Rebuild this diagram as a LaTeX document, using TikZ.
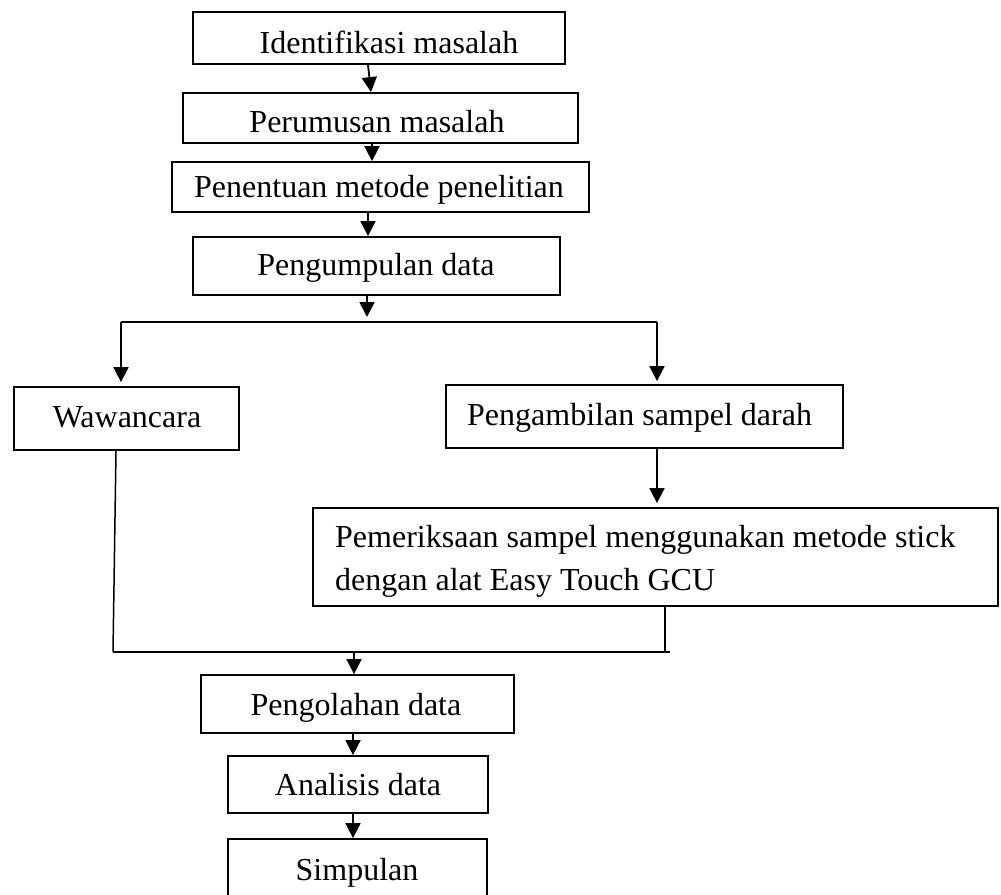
\documentclass[tikz,border=0pt]{standalone}
\usepackage{fontspec}
\setmainfont{Liberation Serif}
\usetikzlibrary{arrows.meta,calc}
\begin{document}
\begin{tikzpicture}[x=1pt,y=-1pt,
  box/.style={draw=black,line width=1.8pt,inner sep=0pt,fill=none},
  lbl/.style={inner sep=0pt,font=\fontsize{32}{38}\selectfont},
  arr/.style={line width=1.8pt,-{Triangle[width=15pt,length=15pt]}},
  conn/.style={line width=1.5pt}]
\useasboundingbox (0,0) rectangle (1001,894);
% boxes
\node[box,minimum width=372pt,minimum height=52pt] (id) at (379,38) {};
\node[box,minimum width=395pt,minimum height=50pt] (pr) at (380.5,118) {};
\node[box,minimum width=417pt,minimum height=50pt] (pm) at (380.5,187) {};
\node[box,minimum width=367pt,minimum height=58pt] (pd) at (376.5,266) {};
\node[box,minimum width=225pt,minimum height=63pt] (ww) at (126.5,418.5) {};
\node[box,minimum width=397pt,minimum height=63pt] (ps) at (644.5,416.5) {};
\node[box,minimum width=685pt,minimum height=98pt] (pe) at (655.5,557) {};
\node[box,minimum width=313pt,minimum height=58pt] (po) at (357.5,704) {};
\node[box,minimum width=260pt,minimum height=57pt] (an) at (358,784.5) {};
\node[box,minimum width=259pt,minimum height=61pt] (si) at (357.5,869.5) {};
% labels
\node[lbl,anchor=base] (tid) at (389,53) {Identifikasi masalah};
\node[lbl,anchor=base] (tpr) at (377,132) {Perumusan masalah};
\node[lbl,anchor=base] (tpm) at (379,197) {Penentuan metode penelitian};
\node[lbl,anchor=base] (tpd) at (376,275) {Pengumpulan data};
\node[lbl,anchor=base] (tww) at (127,427) {Wawancara};
\node[lbl,anchor=base west] (tps) at (467,425) {Pengambilan sampel darah};
\node[lbl,anchor=base west] (tpe1) at (335,547) {Pemeriksaan sampel menggunakan metode stick};
\node[lbl,anchor=base west] (tpe2) at (335,590) {dengan alat Easy Touch GCU};
\node[lbl,anchor=base] (tpo) at (356,715) {Pengolahan data};
\node[lbl,anchor=base] (tan) at (358,795) {Analisis data};
\node[lbl,anchor=base] (tsi) at (357,880) {Simpulan};
% junction coordinates
\coordinate (split) at (367,322);
\coordinate (L) at (121,322);
\coordinate (R) at (657,322);
\coordinate (M1) at (113,652);
\coordinate (M2) at (670,652);
\coordinate (J) at (354,652);
% connectors
\draw[arr] ([xshift=-11pt]id.south) -- ([xshift=-9.5pt]pr.north);
\draw[arr] ([xshift=-8.5pt]pr.south) -- ([xshift=-8.5pt]pm.north);
\draw[arr] ([xshift=-12.5pt]pm.south) -- ([xshift=-8.5pt]pd.north);
\draw[arr] ([xshift=-9.5pt]pd.south) -- ([yshift=5pt]split);
\draw[line width=1.8pt] (L) -- (R);
\draw[arr] (L) -- ([yshift=4pt]L |- ww.north);
\draw[arr] (R) -- ([yshift=3pt]R |- ps.north);
\draw[arr] ([xshift=12.5pt]ps.south) -- ([xshift=1.5pt,yshift=4pt]pe.north);
\draw[conn] ([xshift=-10.5pt]ww.south) -- (M1);
\draw[conn] ([xshift=9.5pt]pe.south) -- ([xshift=9.5pt]pe.south |- M1);
\draw[conn] (M1) -- (M2);
\draw[arr] (J) -- (J |- po.north);
\draw[arr] ([xshift=-4.5pt]po.south) -- ([xshift=-5pt]an.north);
\draw[arr] ([xshift=-5pt]an.south) -- ([xshift=-4.5pt]si.north);
\end{tikzpicture}
\end{document}
